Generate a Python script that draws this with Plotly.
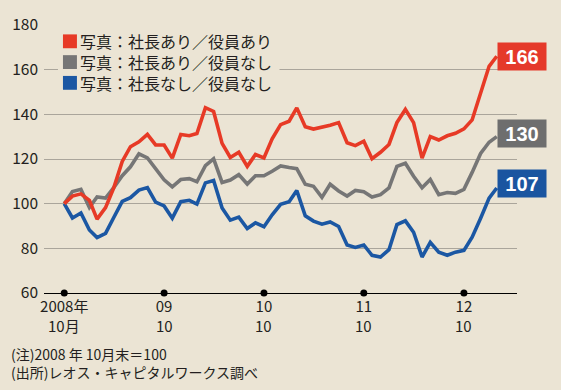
import plotly.graph_objects as go
import pandas as pd

# ---- data ----
try:
    months = pd.date_range("2008-10-31", periods=53, freq="ME")
except Exception:
    months = pd.date_range("2008-10-31", periods=53, freq="M")

series_names = ["写真：社長あり／役員あり", "写真：社長あり／役員なし", "写真：社長なし／役員なし"]

red = [100, 103.4, 104.4, 101.5, 93.1, 98.2, 107.1, 118.9, 125.5, 127.7,
       131, 126.3, 126.3, 120.4, 131, 130.4, 131.4, 143, 141.3, 127,
       120.7, 123, 116.7, 122, 120.5, 129, 135.4, 136.9, 142.9, 134.4,
       133.4, 134.1, 135.1, 136.3, 127.3, 126, 128, 120.1, 123, 126.5,
       136.3, 142.2, 136.3, 120.4, 130, 128.5, 130.4, 131.5, 133.5, 137.5,
       150, 161.5, 166]
grey = [100, 105.4, 106.4, 98.3, 103, 102.5, 107.2, 112.5, 116.5, 122.3,
        120.5, 115.9, 110.7, 107.5, 110.8, 111.2, 109.8, 117, 120.1, 109.5,
        110.6, 113, 108.8, 112.5, 112.5, 114.5, 116.9, 116.2, 115.7, 108.7,
        107.8, 102.8, 108.7, 105.7, 103.4, 105.9, 105.3, 103, 104, 107.1,
        116.7, 118.1, 112.3, 107.1, 110.8, 104, 105, 104.6, 106.4, 114,
        122.5, 127.5, 130]
blue = [100, 93.6, 95.8, 88.2, 84.8, 86.7, 93.8, 101, 102.7, 106.1,
        107.2, 100.7, 99, 93.5, 100.9, 101.5, 99.8, 109.3, 110.4, 98.1,
        92.6, 94, 88.9, 91.4, 89.7, 95, 99.7, 100.9, 105.9, 94.6,
        92.2, 90.8, 91.8, 89.8, 81.5, 80.4, 81.5, 76.9, 76.1, 79.4,
        90.6, 92.3, 87.2, 76.1, 82.7, 78.3, 76.9, 78.3, 79.1, 85,
        93.5, 102.5, 107]
end_labels = ["166", "130", "107"]

tick_dates = ["2008-10-31", "2009-10-31", "2010-10-31", "2011-10-31", "2012-10-31"]
tick_text_year = ["2008年", "09", "10", "11", "12"]
tick_text_month = ["10月", "10", "10", "10", "10"]
y_ticks = [60, 80, 100, 120, 140, 160, 180]

note_lines = ["(注)2008 年 10月末＝100", "(出所)レオス・キャピタルワークス調べ"]

# ---- style ----
BG = "#ebe4d4"
COLORS = ["#e73a26", "#767676", "#1b57a3"]
BOX_COLORS = ["#e5392a", "#6e6e6e", "#1a55a0"]
JP = "Noto Sans CJK JP"
TXT = "#231f20"
L, T, PW, PH = 43, 22, 474, 271   # plot area in pixels


def py(ypix):
    """pixel row -> paper y"""
    return (T + PH - ypix) / PH


def px(xpix):
    return (xpix - L) / PW


fig = go.Figure()
all_series = [red, grey, blue]
for vals, col in zip(reversed(all_series), reversed(COLORS)):
    fig.add_trace(go.Scatter(x=months, y=vals, mode="lines",
                             line=dict(color=col, width=3.6),
                             showlegend=False, hoverinfo="skip"))

# year dots on the baseline
fig.add_trace(go.Scatter(x=tick_dates, y=[y_ticks[0]] * len(tick_dates), mode="markers",
                         marker=dict(color="black", size=7), cliponaxis=False,
                         showlegend=False, hoverinfo="skip"))

# second line of the x tick labels
for d, t in zip(tick_dates, tick_text_month):
    fig.add_annotation(x=d, xref="x", yref="paper", y=py(326), text=t,
                       xanchor="center", yanchor="middle", showarrow=False,
                       borderpad=0, font=dict(family=JP, size=15, color=TXT))

# end-value boxes
yshifts = [0, 3, 5]
for vals, lab, bc, ys in zip(all_series, end_labels, BOX_COLORS, yshifts):
    fig.add_annotation(x=months[-1], y=vals[-1], text="<b>%s</b>" % lab,
                       xanchor="left", yanchor="middle", showarrow=False,
                       xshift=0, yshift=ys,
                       bgcolor=bc, width=48, height=27, borderpad=0,
                       font=dict(family="Liberation Sans, Arial", size=20, color="white"))

# legend block: background panel, colour squares, text rows
fig.add_shape(type="rect", xref="paper", yref="paper", layer="above",
              x0=px(57), x1=px(279), y0=py(91), y1=py(28),
              fillcolor=BG, line=dict(width=0))
for i, (c, name) in enumerate(zip(COLORS, series_names)):
    cy = 38.5 + 21 * i
    fig.add_shape(type="rect", xref="paper", yref="paper", layer="above",
                  x0=px(62), x1=px(76), y0=py(cy + 7), y1=py(cy - 7),
                  fillcolor=c, line=dict(width=0))
    fig.add_annotation(xref="paper", yref="paper", x=px(78), y=py(cy),
                       xanchor="left", yanchor="middle", align="left", showarrow=False,
                       text=name, borderpad=0,
                       font=dict(family=JP, size=16, color=TXT))

# notes
fig.add_annotation(xref="paper", yref="paper", x=px(9), y=py(364),
                   xanchor="left", yanchor="middle", showarrow=False, align="left",
                   text="<br>".join(note_lines), borderpad=0,
                   font=dict(family=JP, size=14, color=TXT))

fig.update_layout(
    width=561, height=390,
    margin=dict(l=L, r=561 - L - PW, t=T, b=390 - T - PH),
    paper_bgcolor=BG, plot_bgcolor=BG,
    showlegend=False,
    xaxis=dict(range=["2008-08-18", "2013-05-13"], tickvals=tick_dates, ticktext=tick_text_year,
               showgrid=False, zeroline=False, showline=True, linecolor="black", linewidth=1.2,
               ticks="", ticklabelstandoff=0,
               tickfont=dict(family=JP, size=15, color=TXT)),
    yaxis=dict(range=[60, 180], tickvals=y_ticks, showgrid=True, gridcolor="#aaa59b",
               gridwidth=1.2, zeroline=False, showline=False, ticks="",
               ticklabelstandoff=5,
               tickfont=dict(family=JP, size=15.5, color=TXT)),
)

fig.write_html("out.html", config={"displayModeBar": False},
               post_script="document.body.style.margin='0px';")
